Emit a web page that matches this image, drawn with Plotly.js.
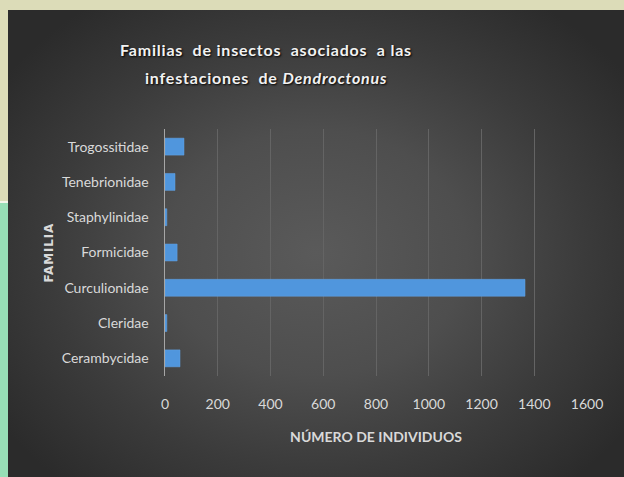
<!DOCTYPE html>
<html>
<head>
<meta charset="utf-8">
<script src="https://cdn.plot.ly/plotly-3.0.1.min.js"></script>
<style>
  html, body { margin:0; padding:0; width:624px; height:477px; overflow:hidden; background:#DCDCB8; }
  #green { position:absolute; left:0; top:201px; width:8px; height:276px; background:#97DEB6; border-top:2px solid #f4f4ea; }
  #panel { position:absolute; left:8px; top:10px; width:616px; height:467px;
    background: radial-gradient(ellipse 70% 75% at 50% 52%, #5a5a5a 0%, #4e4e4e 35%, #3b3b3b 62%, #2b2b2b 88%); }
  #chart { position:absolute; left:0; top:0; width:624px; height:477px; }
  .annotation-text { letter-spacing: 0.8px; }
</style>
</head>
<body>
<div id="green"></div>
<div id="panel"></div>
<div id="chart"></div>
<script>
const categories = ["Cerambycidae", "Cleridae", "Curculionidae", "Formicidae", "Staphylinidae", "Tenebrionidae", "Trogossitidae"];
const values = [57, 7, 1365, 46, 7, 38, 72];
const xTicks = [0, 200, 400, 600, 800, 1000, 1200, 1400, 1600];
const titleLines = ["Familias  de insectos  asociados  a las", "infestaciones  de <i>Dendroctonus</i>"];

const font = "Lato, sans-serif";
const txt = "#d9d9d9";

const trace = {
  type: "bar",
  orientation: "h",
  y: categories,
  x: values,
  marker: { color: "#5096dd", line: { color: "#65a4e6", width: 0.5 } },
  hoverinfo: "x+y"
};

const titleFont = { family: "Lato, sans-serif", size: 16, color: "#f2f2f2", shadow: "1px 1px 2px #000" };

const layout = {
  width: 624, height: 477,
  paper_bgcolor: "rgba(0,0,0,0)",
  plot_bgcolor: "rgba(0,0,0,0)",
  margin: { l: 165, r: 37, t: 129, b: 101 },
  bargap: 0.52,
  showlegend: false,
  annotations: [
    { text: "<b>" + titleLines[0] + "</b>", xref: "paper", yref: "paper", showarrow: false,
      x: (266 - 165) / 422, y: 1 + (129 - 49) / 247, xanchor: "center", yanchor: "middle", font: titleFont },
    { text: "<b>" + titleLines[1] + "</b>", xref: "paper", yref: "paper", showarrow: false,
      x: (266 - 165) / 422, y: 1 + (129 - 77) / 247, xanchor: "center", yanchor: "middle", font: titleFont },
    { text: "<b>FAMILIA</b>", xref: "paper", yref: "paper", showarrow: false, textangle: -90,
      x: (48 - 165) / 422, y: 0.5, xanchor: "center", yanchor: "middle",
      font: { family: "DejaVu Sans, sans-serif", size: 12, color: txt } }
  ],
  xaxis: {
    range: [0, 1600],
    tickvals: xTicks,
    ticktext: xTicks.map(String),
    showgrid: true,
    gridcolor: "#646464",
    gridwidth: 1,
    zeroline: false,
    showline: false,
    ticks: "",
    ticklabelstandoff: 18,
    tickfont: { family: font, size: 14, color: txt },
    title: { text: "<b>NÚMERO DE INDIVIDUOS</b>", font: { family: font, size: 14, color: txt }, standoff: 21 },
    fixedrange: true
  },
  yaxis: {
    type: "category",
    categoryorder: "array",
    categoryarray: categories,
    showgrid: false,
    showline: true,
    linecolor: "#a6a6a6",
    linewidth: 1.5,
    ticks: "",
    ticklabelstandoff: 12,
    tickfont: { family: font, size: 14, color: txt },
    fixedrange: true
  }
};

Plotly.newPlot("chart", [trace], layout, { displayModeBar: false, staticPlot: true });
</script>
</body>
</html>
